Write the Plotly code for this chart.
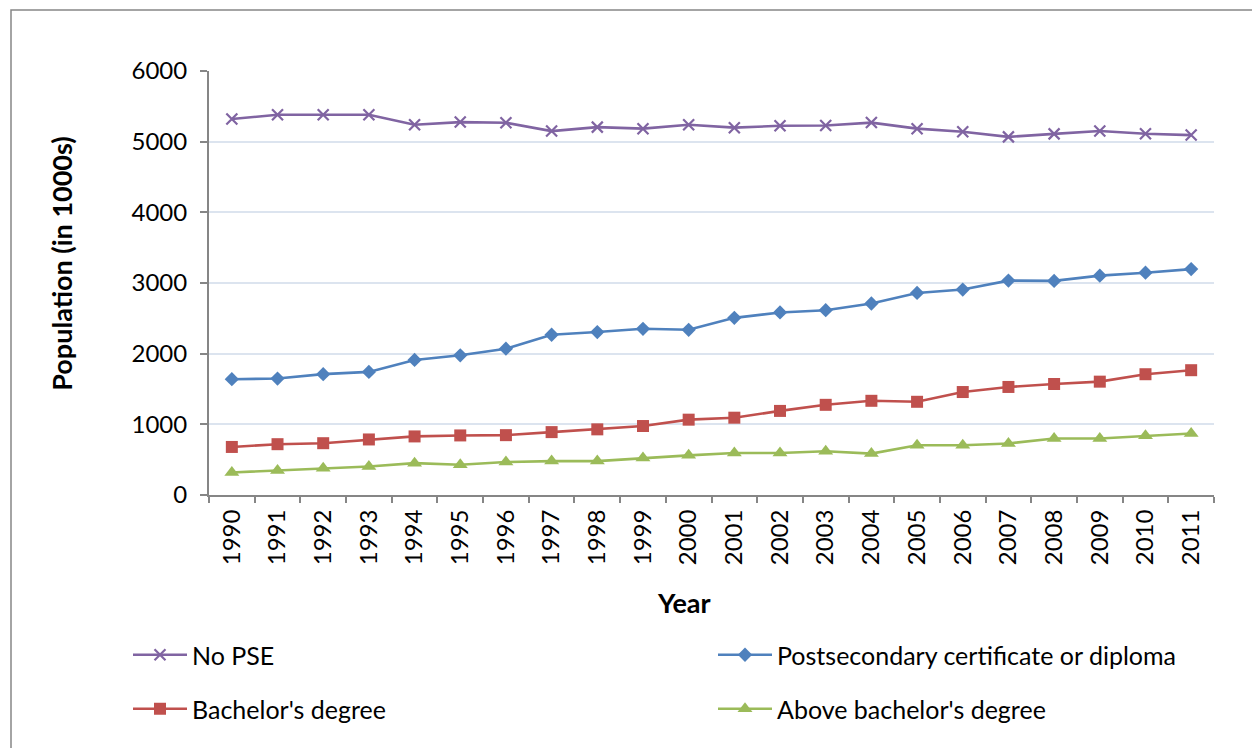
import plotly.graph_objects as go

years = [str(y) for y in range(1990, 2012)]

no_pse = [5320, 5380, 5380, 5380, 5240, 5277, 5268, 5150, 5206, 5184, 5240,
          5198, 5225, 5228, 5270, 5184, 5141, 5068, 5110, 5150, 5113, 5093]
postsecondary = [1639, 1648, 1710, 1742, 1911, 1977, 2070, 2268, 2306, 2352, 2338,
                 2507, 2583, 2615, 2710, 2859, 2907, 3034, 3030, 3104, 3146, 3197]
bachelors = [680, 719, 733, 786, 829, 843, 847, 890, 929, 976, 1066,
             1094, 1190, 1276, 1333, 1319, 1457, 1529, 1571, 1604, 1709, 1766]
above_bachelors = [319, 347, 380, 404, 451, 429, 466, 480, 480, 523, 561,
                   594, 594, 619, 586, 704, 704, 729, 800, 800, 837, 871]

y_ticks = [0, 1000, 2000, 3000, 4000, 5000, 6000]

FONT = "Lato"
AXIS_GREY = "#868686"
GRID = "#DCE4EF"

series = [
    ("No PSE", no_pse, "#8064A2", dict(symbol="x-thin-open", size=11, line=dict(width=2.2, color="#8064A2")), "legend"),
    ("Postsecondary certificate or diploma", postsecondary, "#4F81BD", dict(symbol="diamond", size=11), "legend2"),
    ("Bachelor's degree", bachelors, "#C0504D", dict(symbol="square", size=12), "legend3"),
    ("Above bachelor's degree", above_bachelors, "#9BBB59", dict(symbol="triangle-up", size=13), "legend4"),
]

fig = go.Figure()
for name, vals, color, marker, leg in series:
    fig.add_trace(go.Scatter(
        x=years, y=vals, name=name, mode="lines+markers",
        line=dict(color=color, width=2.6),
        marker=dict(color=color, **marker),
        legend=leg,
    ))

legend_common = dict(
    xref="container", yref="container", xanchor="left", yanchor="middle",
    font=dict(family=FONT, size=25, color="#000000"),
    bgcolor="rgba(0,0,0,0)", itemwidth=54,
)

fig.update_layout(
    width=1252, height=748,
    margin=dict(l=209, r=38, t=71, b=253, autoexpand=False),
    paper_bgcolor="white", plot_bgcolor="white",
    font=dict(family=FONT, size=24, color="#000000"),
    showlegend=True,
    legend=dict(x=128 / 1252, y=1 - 655 / 748, **legend_common),
    legend2=dict(x=713 / 1252, y=1 - 655 / 748, **legend_common),
    legend3=dict(x=128 / 1252, y=1 - 709 / 748, **legend_common),
    legend4=dict(x=713 / 1252, y=1 - 709 / 748, **legend_common),
    xaxis=dict(
        type="category", tickson="boundaries",
        showline=True, linecolor=AXIS_GREY, linewidth=2,
        ticks="outside", ticklen=6, tickwidth=2, tickcolor=AXIS_GREY,
        tickangle=-90, showgrid=False, automargin=False,
        ticklabelstandoff=3,
        tickfont=dict(family=FONT, size=24),
        range=[-0.5, len(years) - 0.5],
    ),
    yaxis=dict(
        range=[0, 6000], tickvals=y_ticks,
        showline=True, linecolor=AXIS_GREY, linewidth=2,
        ticks="outside", ticklen=7, tickwidth=2, tickcolor=AXIS_GREY,
        showgrid=True, gridcolor=GRID, gridwidth=2,
        zeroline=False, automargin=False,
        ticklabelstandoff=8,
        tickfont=dict(family=FONT, size=24),
    ),
    annotations=[
        dict(text="<b>Year</b>", xref="paper", yref="paper",
             x=(684 - 209) / 1005, y=(494.5 - 602) / 423.5,
             xanchor="center", yanchor="middle",
             showarrow=False, font=dict(family=FONT, size=27)),
        dict(text="<b>Population (in 1000s)</b>", xref="paper", yref="paper",
             x=(62 - 209) / 1005, y=(494.5 - 263.5) / 423.5, textangle=-90,
             xanchor="center", yanchor="middle",
             showarrow=False, font=dict(family=FONT, size=27)),
    ],
    shapes=[
        dict(type="rect", xref="paper", yref="paper",
             x0=(11 - 209) / 1005, x1=1.2,
             y0=-1.0, y1=(494.5 - 10) / 423.5,
             line=dict(color=AXIS_GREY, width=1.5), layer="below"),
    ],
)

fig.write_html("out.html")
